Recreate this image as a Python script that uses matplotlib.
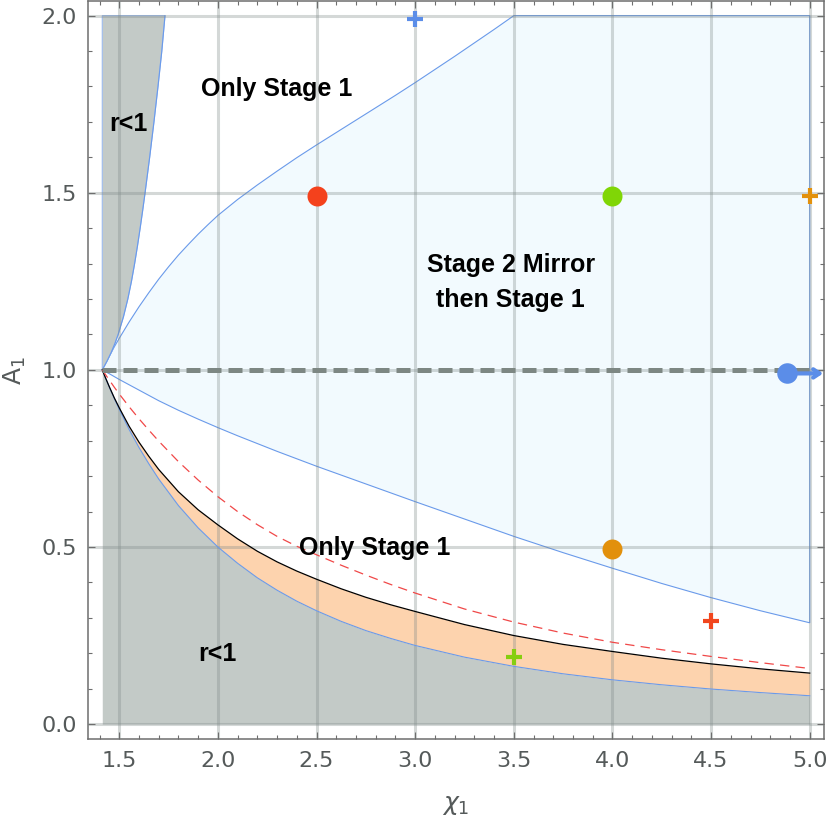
import matplotlib
matplotlib.use("Agg")
import matplotlib.pyplot as plt

# ---------------- data ----------------
# common chi_1 grid for the lower curves
x_low = [1.414, 1.43, 1.45, 1.475, 1.5, 1.55, 1.6, 1.65, 1.7, 1.8, 1.9, 2.0,
         2.1, 2.2, 2.3, 2.4, 2.5, 2.625, 2.75, 2.875, 3.0, 3.25, 3.5, 3.75,
         4.0, 4.25, 4.5, 4.75, 5.0]
# lower r<1 boundary
a_r1_low = [1.0, 0.978, 0.951, 0.919, 0.889, 0.832, 0.781, 0.735, 0.692, 0.617,
            0.554, 0.500, 0.454, 0.413, 0.378, 0.347, 0.320, 0.290, 0.264, 0.242,
            0.222, 0.189, 0.163, 0.142, 0.125, 0.111, 0.099, 0.089, 0.080]
# black solid curve (top of orange band)
a_black = [1.0, 0.978, 0.952, 0.921, 0.893, 0.841, 0.796, 0.756, 0.719, 0.656,
           0.605, 0.5625, 0.523, 0.488, 0.458, 0.432, 0.409, 0.382, 0.358, 0.337,
           0.318, 0.281, 0.250, 0.225, 0.205, 0.186, 0.170, 0.156, 0.144]
# red dashed curve
a_red = [1.0, 0.987, 0.971, 0.951, 0.932, 0.896, 0.862, 0.830, 0.799, 0.741,
         0.689, 0.642, 0.600, 0.563, 0.530, 0.502, 0.478, 0.4485, 0.4207, 0.3944,
         0.370, 0.325, 0.288, 0.257, 0.231, 0.210, 0.191, 0.1735, 0.157]
# lower boundary of the "Stage 2 Mirror" region
a_blue_low = [1.0, 0.995, 0.989, 0.981, 0.973, 0.958, 0.943, 0.928, 0.913, 0.886,
              0.861, 0.837, 0.814, 0.792, 0.770, 0.749, 0.728, 0.703, 0.678, 0.653,
              0.628, 0.579, 0.530, 0.484, 0.440, 0.397, 0.357, 0.320, 0.286]

# upper boundary of the "Stage 2 Mirror" region
x_blue_up = [1.414, 1.43, 1.45, 1.475, 1.5, 1.55, 1.6, 1.65, 1.7, 1.75, 1.8, 1.85,
             1.9, 1.95, 2.0, 2.1, 2.2, 2.3, 2.4, 2.5, 2.6, 2.7, 2.8, 2.9, 3.0,
             3.1, 3.2, 3.3, 3.4, 3.5]
a_blue_up = [1.0, 1.018, 1.039, 1.065, 1.089, 1.135, 1.178, 1.218, 1.256, 1.291,
             1.324, 1.354, 1.383, 1.410, 1.436, 1.481, 1.522, 1.561, 1.599, 1.635,
             1.670, 1.705, 1.740, 1.775, 1.811, 1.848, 1.885, 1.923, 1.961, 2.0]

# left r<1 boundary
x_r1_left = [1.414, 1.4385, 1.460, 1.4785, 1.4945, 1.5215, 1.5435, 1.562, 1.578,
             1.5925, 1.606, 1.6188, 1.631, 1.6542, 1.676, 1.6965, 1.7158, 1.732]
a_r1_left = [1.0, 1.025, 1.05, 1.075, 1.1, 1.15, 1.2, 1.25, 1.3, 1.35, 1.4, 1.45,
             1.5, 1.6, 1.7, 1.8, 1.9, 2.0]

# points
dot_x = [2.5, 4.0, 4.0]
dot_a = [1.49, 1.49, 0.495]
dot_c = ['#F4411C', '#80D606', '#E2900C']
plus_x = [3.0, 5.0, 4.5, 3.5]
plus_a = [1.99, 1.49, 0.29, 0.19]
plus_c = ['#5B8DE8', '#E3910C', '#F1461E', '#86CE10']
blue_dot = (4.883, 0.99)
arrow_end = 5.068

labels = [("Only Stage 1", 2.297, 1.773), ("r<1", 1.546, 1.675),
          ("Stage 2 Mirror", 3.485, 1.275), ("then Stage 1", 3.485, 1.177),
          ("Only Stage 1", 2.797, 0.478), ("r<1", 1.996, 0.177)]

x_ticks = [1.5, 2.0, 2.5, 3.0, 3.5, 4.0, 4.5, 5.0]
y_ticks = [0.0, 0.5, 1.0, 1.5, 2.0]

# ---------------- styling ----------------
GRAY = '#C3CAC7'
ORANGE = '#FDD3AE'
LBLUE = '#F2FAFE'
EDGE = '#6A9AEA'
AXC = '#6E6E6E'
LABC = '#555A5A'

fig = plt.figure(figsize=(8.30, 8.21), dpi=100)
ax = fig.add_axes([0.1061, 0.0999, 0.8866, 0.8983])

# regions
ax.fill_between(x_low, 0, a_r1_low, color=GRAY, lw=0, zorder=1)
ax.fill_between(x_low, a_r1_low, a_black, color=ORANGE, lw=0, zorder=1)

bx = x_blue_up + [5.0, 5.0] + x_low[::-1]
by = a_blue_up + [2.0, a_blue_low[-1]] + a_blue_low[::-1]
ax.fill(bx, by, facecolor=LBLUE, edgecolor=EDGE, lw=0.8, zorder=1.2)

lx = x_r1_left + [x_r1_left[0]]
ly = a_r1_left + [2.0]
ax.fill(lx, ly, facecolor=GRAY, edgecolor='#9DBBEF', lw=0.8, zorder=1.2)
ax.plot(x_r1_left, a_r1_left, color=EDGE, lw=0.8, zorder=1.3)

# curves
ax.plot(x_low, a_r1_low, color=EDGE, lw=0.8, zorder=3)
ax.plot(x_low, a_black, color='black', lw=0.9, zorder=3)
ax.plot(x_low, a_red, color='#F04848', lw=0.9, ls=(0, (7.5, 5)), zorder=3)

# dashed A1 = 1 line
ax.plot([x_low[0], 5.0], [1.0, 1.0], color='#7D8783', lw=3.6,
        ls=(0, (2.8, 1.4)), dash_capstyle='butt', zorder=3.1)

# markers
for x, a, c in zip(dot_x, dot_a, dot_c):
    ax.plot([x], [a], 'o', ms=14.4, color=c, mec='none', zorder=5, clip_on=False)
for x, a, c in zip(plus_x, plus_a, plus_c):
    ax.plot([x], [a], '+', ms=12, mew=3.0, color=c, zorder=5, clip_on=False)

ax.annotate('', xy=(arrow_end, blue_dot[1]), xytext=(blue_dot[0] + 0.03, blue_dot[1]),
            arrowprops=dict(arrowstyle='->,head_length=0.45,head_width=0.3',
                            lw=3.0, color='#5B8DE8', shrinkA=0, shrinkB=0),
            annotation_clip=False, zorder=5)
ax.plot([blue_dot[0]], [blue_dot[1]], 'o', ms=14.8, color='#5B8DE8', mec='none',
        zorder=6, clip_on=False)

for txt, x, a in labels:
    ax.text(x, a, txt, ha='center', va='baseline', fontsize=18,
            fontweight='bold', family='Liberation Sans', color='black', zorder=7)

# axes
ax.set_xlim(1.342, 5.072)
ax.set_ylim(-0.042, 2.04)
ax.set_xticks(x_ticks)
ax.set_yticks(y_ticks)
ax.set_xticklabels([f"{v:.1f}" for v in x_ticks])
ax.set_yticklabels([f"{v:.1f}" for v in y_ticks])
ax.set_xticks([1.4 + 0.1 * i for i in range(37)], minor=True)
ax.set_yticks([0.1 * i for i in range(21)], minor=True)

ax.set_axisbelow(False)
ax.grid(True, which='major', color='#7F8A88', alpha=0.33, lw=2.2)

ax.tick_params(which='both', direction='in', top=True, right=True,
               color=AXC, width=0.8, labelcolor=LABC, labelsize=16)
ax.tick_params(which='major', length=5)
ax.tick_params(which='minor', length=3)
ax.tick_params(axis='x', pad=8.4)
ax.tick_params(axis='y', pad=7.8)
for s in ax.spines.values():
    s.set_color(AXC)
    s.set_linewidth(1.1)

ax.set_xlabel(r'$\chi_1$', fontsize=18, color=LABC, labelpad=16)
ax.set_ylabel(r'$\mathrm{A}_1$', fontsize=18, color=LABC, labelpad=10)

fig.savefig('out.png', dpi=100)
